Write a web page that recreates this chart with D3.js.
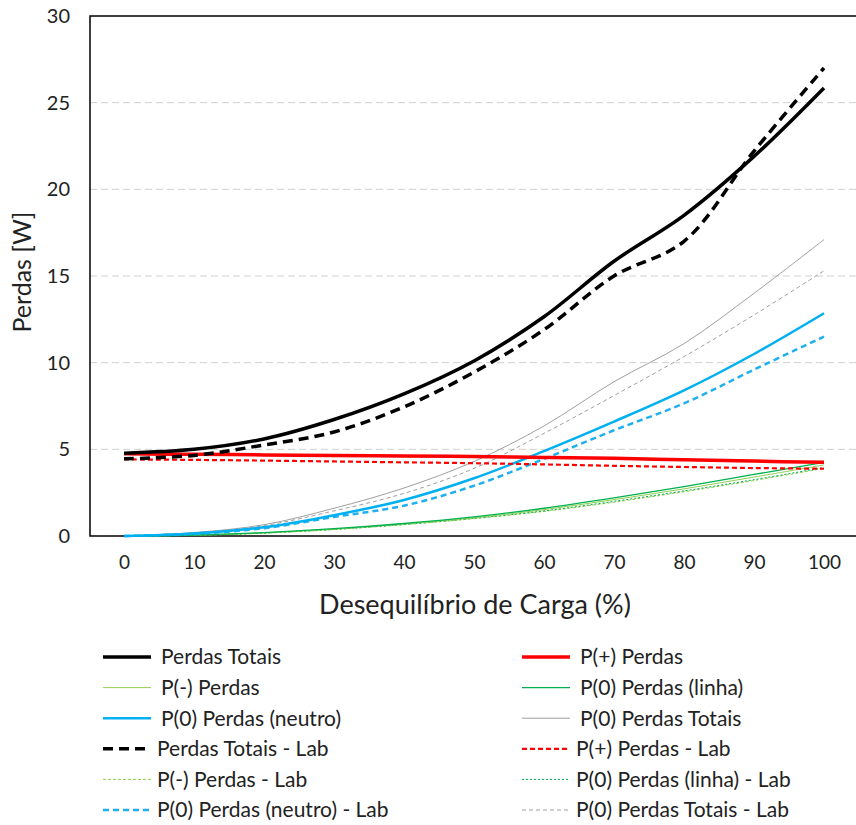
<!DOCTYPE html>
<html>
<head>
<meta charset="utf-8">
<script src="https://cdn.jsdelivr.net/npm/d3@7/dist/d3.min.js"></script>
<style>
  html, body { margin: 0; padding: 0; background: #fff; }
  svg { display: block; font-family: Lato, "Open Sans", sans-serif; }
</style>
</head>
<body>
<svg id="chart" width="856" height="825"></svg>
<script>
// Load imbalance (%) on the x axis
const categories = ["0", "10", "20", "30", "40", "50", "60", "70", "80", "90", "100"];
const yTicks = [0, 5, 10, 15, 20, 25, 30];

// Losses [W], simulated
const perdasTotais = [4.78, 5.0, 5.6, 6.72, 8.2, 10.1, 12.65, 15.85, 18.5, 21.9, 25.85];
const pPos = [4.74, 4.71, 4.68, 4.65, 4.62, 4.58, 4.53, 4.48, 4.4, 4.32, 4.25];
const pNeg = [0, 0.05, 0.18, 0.4, 0.7, 1.05, 1.52, 2.1, 2.72, 3.4, 4.1];
const p0Linha = [0, 0.05, 0.2, 0.42, 0.72, 1.1, 1.6, 2.2, 2.85, 3.55, 4.25];
const p0Neutro = [0, 0.15, 0.5, 1.2, 2.08, 3.33, 4.9, 6.6, 8.4, 10.5, 12.85];
const p0Totais = [0, 0.2, 0.65, 1.6, 2.77, 4.3, 6.35, 8.9, 11.1, 14.0, 17.1];

// Losses [W], laboratory measurements
const perdasTotaisLab = [4.45, 4.65, 5.25, 6.0, 7.45, 9.45, 11.9, 15.0, 17.0, 22.2, 27.0];
const pPosLab = [4.42, 4.39, 4.35, 4.3, 4.25, 4.2, 4.13, 4.05, 3.98, 3.92, 3.88];
const pNegLab = [0, 0.04, 0.16, 0.37, 0.65, 1.0, 1.42, 1.95, 2.55, 3.2, 3.9];
const p0LinhaLab = [0, 0.04, 0.17, 0.38, 0.67, 1.02, 1.45, 2.0, 2.6, 3.25, 3.95];
const p0NeutroLab = [0, 0.12, 0.45, 1.1, 1.75, 2.9, 4.45, 6.1, 7.65, 9.6, 11.5];
const p0TotaisLab = [0, 0.18, 0.6, 1.45, 2.46, 3.9, 5.92, 8.1, 10.35, 12.75, 15.3];

const seriesNames = [
  "Perdas Totais", "P(+) Perdas",
  "P(-) Perdas", "P(0) Perdas (linha)",
  "P(0) Perdas (neutro)", "P(0) Perdas Totais",
  "Perdas Totais - Lab", "P(+) Perdas - Lab",
  "P(-) Perdas - Lab", "P(0) Perdas (linha) - Lab",
  "P(0) Perdas (neutro) - Lab", "P(0) Perdas Totais - Lab"
];
const seriesValues = [
  perdasTotais, pPos, pNeg, p0Linha, p0Neutro, p0Totais,
  perdasTotaisLab, pPosLab, pNegLab, p0LinhaLab, p0NeutroLab, p0TotaisLab
];

// Stroke style per series (same order as seriesNames)
const styles = [
  { color: "#000000", width: 3.5, dash: null },
  { color: "#FF0000", width: 3.5, dash: null },
  { color: "#92D050", width: 1, dash: null },
  { color: "#00B050", width: 1.3, dash: null },
  { color: "#00B0F0", width: 2.5, dash: null },
  { color: "#A0A0A0", width: 1, dash: null },
  { color: "#000000", width: 3.5, dash: "10,6" },
  { color: "#FF0000", width: 2.2, dash: "5,3" },
  { color: "#92D050", width: 1, dash: "3,2" },
  { color: "#00B050", width: 1, dash: "2,2" },
  { color: "#20B0F0", width: 2.5, dash: "6,4" },
  { color: "#A0A0A0", width: 1, dash: "4,3" }
];

// Draw order: lab series sit under the simulated ones
const drawOrder = [8, 9, 2, 3, 11, 5, 10, 4, 7, 1, 6, 0];

const svg = d3.select("#chart");
const plot = { left: 90, right: 859, top: 16, bottom: 536 };

const x = d3.scalePoint()
  .domain(categories)
  .range([plot.left - 1, plot.right])
  .padding(0.5);

const y = d3.scaleLinear()
  .domain([0, 30])
  .range([plot.bottom, plot.top]);

// Horizontal gridlines
svg.append("g")
  .selectAll("line")
  .data(yTicks.filter(d => d > 0 && d < 30))
  .join("line")
  .attr("x1", plot.left)
  .attr("x2", plot.right)
  .attr("y1", d => y(d))
  .attr("y2", d => y(d))
  .attr("stroke", "#D0D0D0")
  .attr("stroke-width", 1)
  .attr("stroke-dasharray", "7,4");

// Plot frame
svg.append("rect")
  .attr("x", plot.left)
  .attr("y", plot.top)
  .attr("width", plot.right - plot.left)
  .attr("height", plot.bottom - plot.top)
  .attr("fill", "none")
  .attr("stroke", "#000")
  .attr("stroke-width", 1.5);

// Y axis
const yAxis = svg.append("g")
  .attr("transform", `translate(${plot.left - 20},0)`)
  .call(d3.axisLeft(y).tickValues(yTicks).tickSize(0).tickPadding(0));
yAxis.select(".domain").remove();
yAxis.selectAll("text")
  .attr("font-family", "Lato, sans-serif")
  .attr("font-size", 20)
  .attr("fill", "#222");

// X axis
const xAxis = svg.append("g")
  .attr("transform", `translate(0,${plot.bottom + 19})`)
  .call(d3.axisBottom(x).tickSize(0).tickPadding(0));
xAxis.select(".domain").remove();
xAxis.selectAll("text")
  .attr("font-family", "Lato, sans-serif")
  .attr("font-size", 19)
  .attr("fill", "#222");

// Axis titles
svg.append("text")
  .attr("x", 475)
  .attr("y", 614)
  .attr("text-anchor", "middle")
  .attr("font-size", 27)
  .attr("fill", "#222")
  .text("Desequilíbrio de Carga (%)");

svg.append("text")
  .attr("transform", "translate(31,272) rotate(-90)")
  .attr("text-anchor", "middle")
  .attr("font-size", 25)
  .attr("fill", "#222")
  .text("Perdas [W]");

// Series lines
const line = d3.line()
  .x((d, i) => x(categories[i]))
  .y(d => y(d))
  .curve(d3.curveCatmullRom.alpha(0.5));

svg.append("g")
  .selectAll("path")
  .data(drawOrder)
  .join("path")
  .attr("d", k => line(seriesValues[k]))
  .attr("fill", "none")
  .attr("stroke", k => styles[k].color)
  .attr("stroke-width", k => styles[k].width)
  .attr("stroke-dasharray", k => styles[k].dash)
  .attr("stroke-linejoin", "round");

// Legend: two columns, six rows
const legend = svg.append("g");
const rowY = d3.scaleLinear().domain([0, 5]).range([657, 810]);
seriesNames.forEach((name, k) => {
  const col = k % 2;
  const row = Math.floor(k / 2);
  const isLab = k >= 6;
  const x0 = col === 0 ? 103 : 522;
  const yy = rowY(row);
  const s = styles[k];
  legend.append("line")
    .attr("x1", x0).attr("x2", x0 + 48)
    .attr("y1", yy).attr("y2", yy)
    .attr("stroke", s.color)
    .attr("stroke-width", s.width)
    .attr("stroke-dasharray", s.dash);
  legend.append("text")
    .attr("x", x0 + (isLab ? 54 : 58))
    .attr("y", yy)
    .attr("dy", "0.35em")
    .attr("font-size", 21)
    .attr("fill", "#222")
    .text(name);
});
</script>
</body>
</html>
